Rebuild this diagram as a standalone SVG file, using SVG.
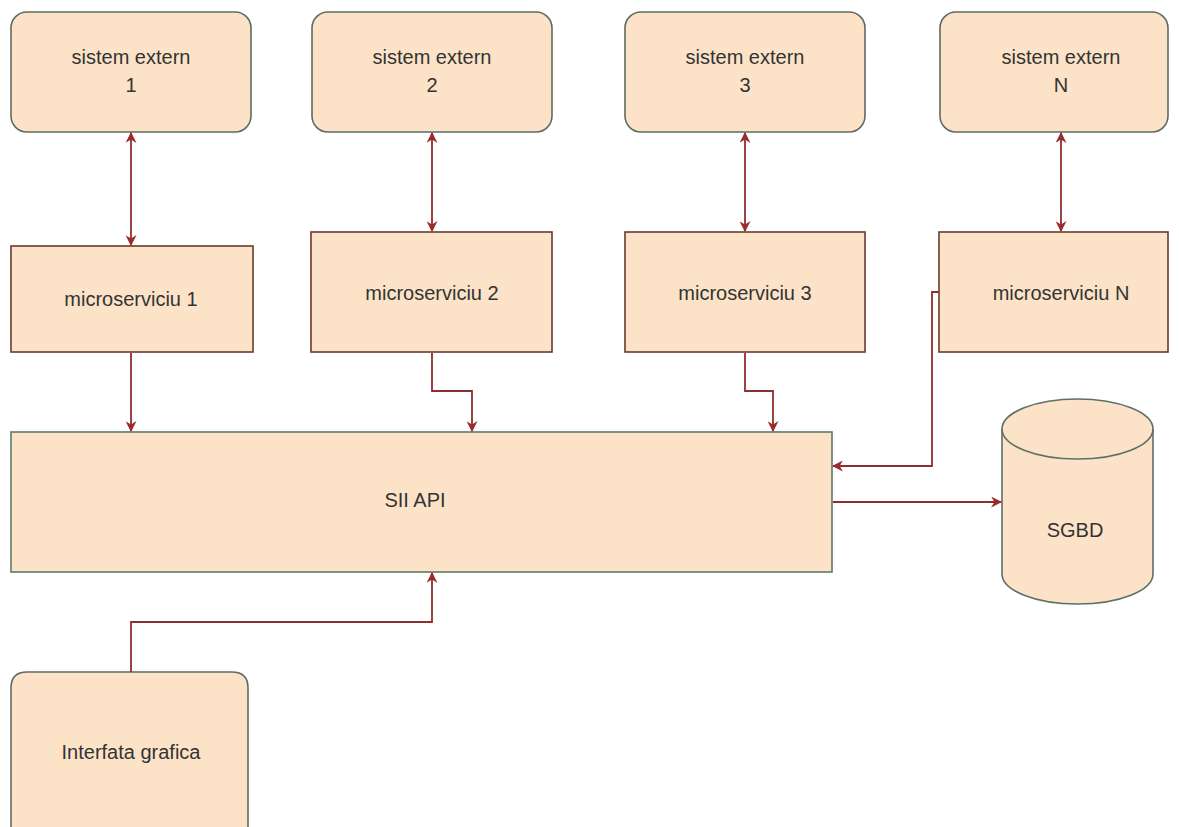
<svg xmlns="http://www.w3.org/2000/svg" width="1179" height="827" viewBox="0 0 1179 827">
  <style>
    .ext { fill: #fce3c8; stroke: #5e6b64; stroke-width: 1.6; }
    .ms { fill: #fce3c8; stroke: #6a3a2e; stroke-width: 1.6; }
    .api { fill: #fce3c8; stroke: #5d7a68; stroke-width: 1.6; }
    .db { fill: #fce3c8; stroke: #5d7066; stroke-width: 1.6; }
    .lbl { font-family: "Liberation Sans", Arial, sans-serif; font-size: 20px; fill: #333333; text-anchor: middle; }
    .conn { fill: none; stroke: #8e2f2f; stroke-width: 1.8; }
  </style>
  <defs>
    <marker id="arr" viewBox="0 0 10 10" refX="9" refY="5" markerWidth="11" markerHeight="11" markerUnits="userSpaceOnUse" orient="auto-start-reverse">
      <path d="M0,0 L10,5 L0,10 L3,5 z" fill="#9a2b2b"/>
    </marker>
  </defs>
  <rect x="0" y="0" width="1179" height="827" fill="#ffffff"/>

  <g id="se1">
    <rect class="ext" x="11" y="12" width="240" height="120" rx="16"/>
    <text class="lbl" x="131" y="64">sistem extern</text>
    <text class="lbl" x="131" y="92">1</text>
  </g>
  <g id="se2">
    <rect class="ext" x="312" y="12" width="240" height="120" rx="16"/>
    <text class="lbl" x="432" y="64">sistem extern</text>
    <text class="lbl" x="432" y="92">2</text>
  </g>
  <g id="se3">
    <rect class="ext" x="625" y="12" width="240" height="120" rx="16"/>
    <text class="lbl" x="745" y="64">sistem extern</text>
    <text class="lbl" x="745" y="92">3</text>
  </g>
  <g id="seN">
    <rect class="ext" x="940" y="12" width="228" height="120" rx="16"/>
    <text class="lbl" x="1061" y="64">sistem extern</text>
    <text class="lbl" x="1061" y="92">N</text>
  </g>

  <g id="ms1">
    <rect class="ms" x="11" y="246" width="242" height="106"/>
    <text class="lbl" x="131" y="306">microserviciu 1</text>
  </g>
  <g id="ms2">
    <rect class="ms" x="311" y="232" width="241" height="120"/>
    <text class="lbl" x="432" y="300">microserviciu 2</text>
  </g>
  <g id="ms3">
    <rect class="ms" x="625" y="232" width="240" height="120"/>
    <text class="lbl" x="745" y="300">microserviciu 3</text>
  </g>
  <g id="msN">
    <rect class="ms" x="939" y="232" width="229" height="120"/>
    <text class="lbl" x="1061" y="300">microserviciu N</text>
  </g>

  <g id="api">
    <rect class="api" x="11" y="432" width="821" height="140"/>
    <text class="lbl" x="415" y="507">SII API</text>
  </g>

  <g id="sgbd">
    <path class="db" d="M1002,429 A75.5,30 0 0 1 1153,429 L1153,574 A75.5,30 0 0 1 1002,574 Z"/>
    <path class="db" d="M1002,429 A75.5,30 0 0 0 1153,429" fill="none"/>
    <text class="lbl" x="1075" y="537">SGBD</text>
  </g>

  <g id="gui">
    <path class="ext" d="M11,840 L11,688 Q11,672 27,672 L232,672 Q248,672 248,688 L248,840"/>
    <text class="lbl" x="131" y="759">Interfata grafica</text>
  </g>

  <g id="connectors">
    <line class="conn" x1="131" y1="133" x2="131" y2="245" marker-start="url(#arr)" marker-end="url(#arr)"/>
    <line class="conn" x1="432" y1="133" x2="432" y2="231" marker-start="url(#arr)" marker-end="url(#arr)"/>
    <line class="conn" x1="745" y1="133" x2="745" y2="231" marker-start="url(#arr)" marker-end="url(#arr)"/>
    <line class="conn" x1="1061" y1="133" x2="1061" y2="231" marker-start="url(#arr)" marker-end="url(#arr)"/>
    <line class="conn" x1="131" y1="353" x2="131" y2="431" marker-end="url(#arr)"/>
    <polyline class="conn" points="432,353 432,391 472,391 472,431" marker-end="url(#arr)"/>
    <polyline class="conn" points="745,353 745,391 773,391 773,431" marker-end="url(#arr)"/>
    <polyline class="conn" points="939,292 932,292 932,466 833,466" marker-end="url(#arr)"/>
    <line class="conn" x1="833" y1="502" x2="1001" y2="502" marker-end="url(#arr)"/>
    <polyline class="conn" points="131,672 131,622 432,622 432,573" marker-end="url(#arr)"/>
  </g>
</svg>
